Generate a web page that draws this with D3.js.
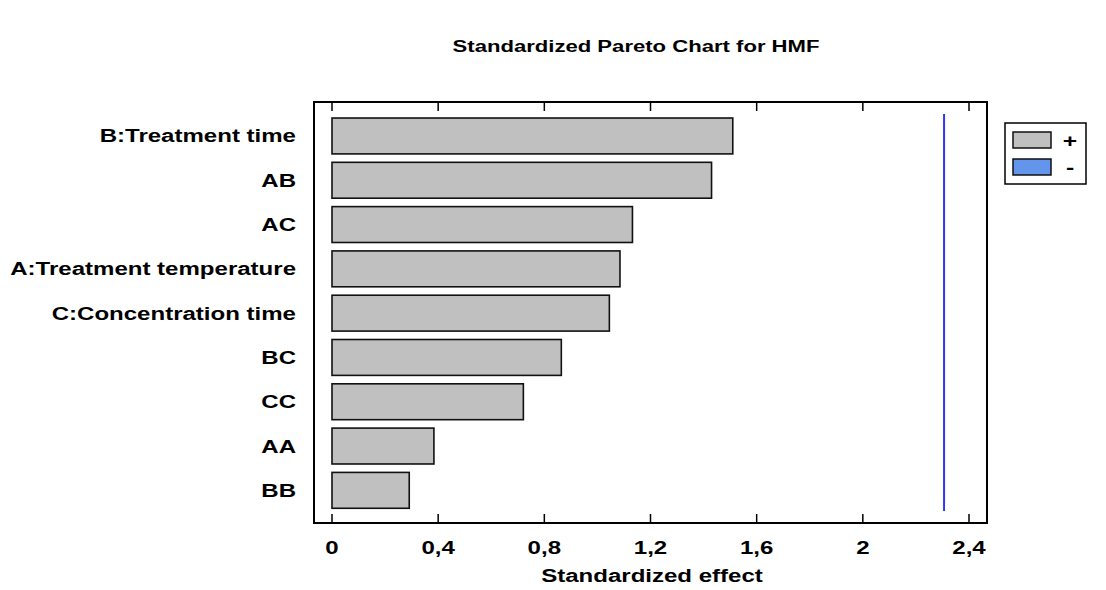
<!DOCTYPE html>
<html>
<head>
<meta charset="utf-8">
<script src="https://cdn.jsdelivr.net/npm/d3@7"></script>
<style>
  body { margin: 0; background: #fff; }
  text { font-family: "Liberation Sans", Arial, sans-serif; font-weight: bold; fill: #000; }
</style>
</head>
<body>
<div id="chart"></div>
<script>
// effects, top to bottom
const effects = ["B:Treatment time", "AB", "AC", "A:Treatment temperature", "C:Concentration time", "BC", "CC", "AA", "BB"];
const values  = [1.51, 1.43, 1.132, 1.085, 1.045, 0.864, 0.721, 0.384, 0.291];
const signs   = ["+", "+", "+", "+", "+", "+", "+", "+", "+"];
const xTicks  = [0, 0.4, 0.8, 1.2, 1.6, 2, 2.4];
const critical = 2.306;
const legendKeys = ["+", "-"];

const W = 1106, H = 590;
const frame = {left: 314, right: 987, top: 102, bottom: 523};
const stretch = 1.3;   // original picture is stretched sideways

const svg = d3.select("#chart").append("svg")
    .attr("width", W)
    .attr("height", H);

const x = d3.scaleLinear()
    .domain([0, 2.4])
    .range([332, 969]);

const y = d3.scaleBand()
    .domain(effects)
    .range([109.6, 516.7])
    .paddingInner(0.19)
    .paddingOuter(0.19);

const color = d3.scaleOrdinal()
    .domain(legendKeys)
    .range(["#c0c0c0", "#6495ed"]);

const loc = d3.formatLocale({decimal: ",", thousands: ".", grouping: [3], currency: ["", ""]});
const fmt = loc.format("~g");

// stretched text helper
function label(g, tx, ty, str, size, anchor) {
  return g.append("text")
      .attr("transform", `translate(${tx},${ty}) scale(${stretch},1)`)
      .attr("text-anchor", anchor)
      .style("font-size", size + "px")
      .text(str);
}

// title
label(svg, 636, 52, "Standardized Pareto Chart for HMF", 17, "middle");

// bars
svg.append("g")
  .selectAll("rect")
  .data(effects)
  .enter().append("rect")
    .attr("x", x(0))
    .attr("y", d => y(d))
    .attr("width", (d, i) => x(values[i]) - x(0))
    .attr("height", y.bandwidth())
    .attr("fill", (d, i) => color(signs[i]))
    .attr("stroke", "#111")
    .attr("stroke-width", 1.6);

// effect names
effects.forEach(d => {
  label(svg, 296, y(d) + y.bandwidth() / 2 + 6.5, d, 18.5, "end");
});

// critical line
svg.append("line")
    .attr("x1", x(critical)).attr("x2", x(critical))
    .attr("y1", 114).attr("y2", 511)
    .attr("stroke", "#3333ff")
    .attr("stroke-width", 2);

// frame
svg.append("rect")
    .attr("x", frame.left).attr("y", frame.top)
    .attr("width", frame.right - frame.left)
    .attr("height", frame.bottom - frame.top)
    .attr("fill", "none")
    .attr("stroke", "#000")
    .attr("stroke-width", 2);

// ticks top and bottom (inside)
const ticks = svg.append("g");
xTicks.forEach(t => {
  ticks.append("line")
      .attr("x1", x(t)).attr("x2", x(t))
      .attr("y1", frame.top).attr("y2", frame.top + 9)
      .attr("stroke", "#000").attr("stroke-width", 1.5);
  ticks.append("line")
      .attr("x1", x(t)).attr("x2", x(t))
      .attr("y1", frame.bottom).attr("y2", frame.bottom - 9)
      .attr("stroke", "#000").attr("stroke-width", 1.5);
  label(ticks, x(t), 554, fmt(t), 18.5, "middle");
});

// axis title
label(svg, 652, 582, "Standardized effect", 18.5, "middle");

// legend
const leg = svg.append("g");
leg.append("rect")
    .attr("x", 1005).attr("y", 123)
    .attr("width", 81).attr("height", 61)
    .attr("fill", "#fff")
    .attr("stroke", "#000")
    .attr("stroke-width", 1.5);
legendKeys.forEach((k, i) => {
  leg.append("rect")
      .attr("x", 1013).attr("y", 132 + i * 27)
      .attr("width", 38).attr("height", 16)
      .attr("fill", color(k))
      .attr("stroke", "#111")
      .attr("stroke-width", 1.5);
  label(leg, 1070, 147 + i * 27, k, 19, "middle");
});
</script>
</body>
</html>
